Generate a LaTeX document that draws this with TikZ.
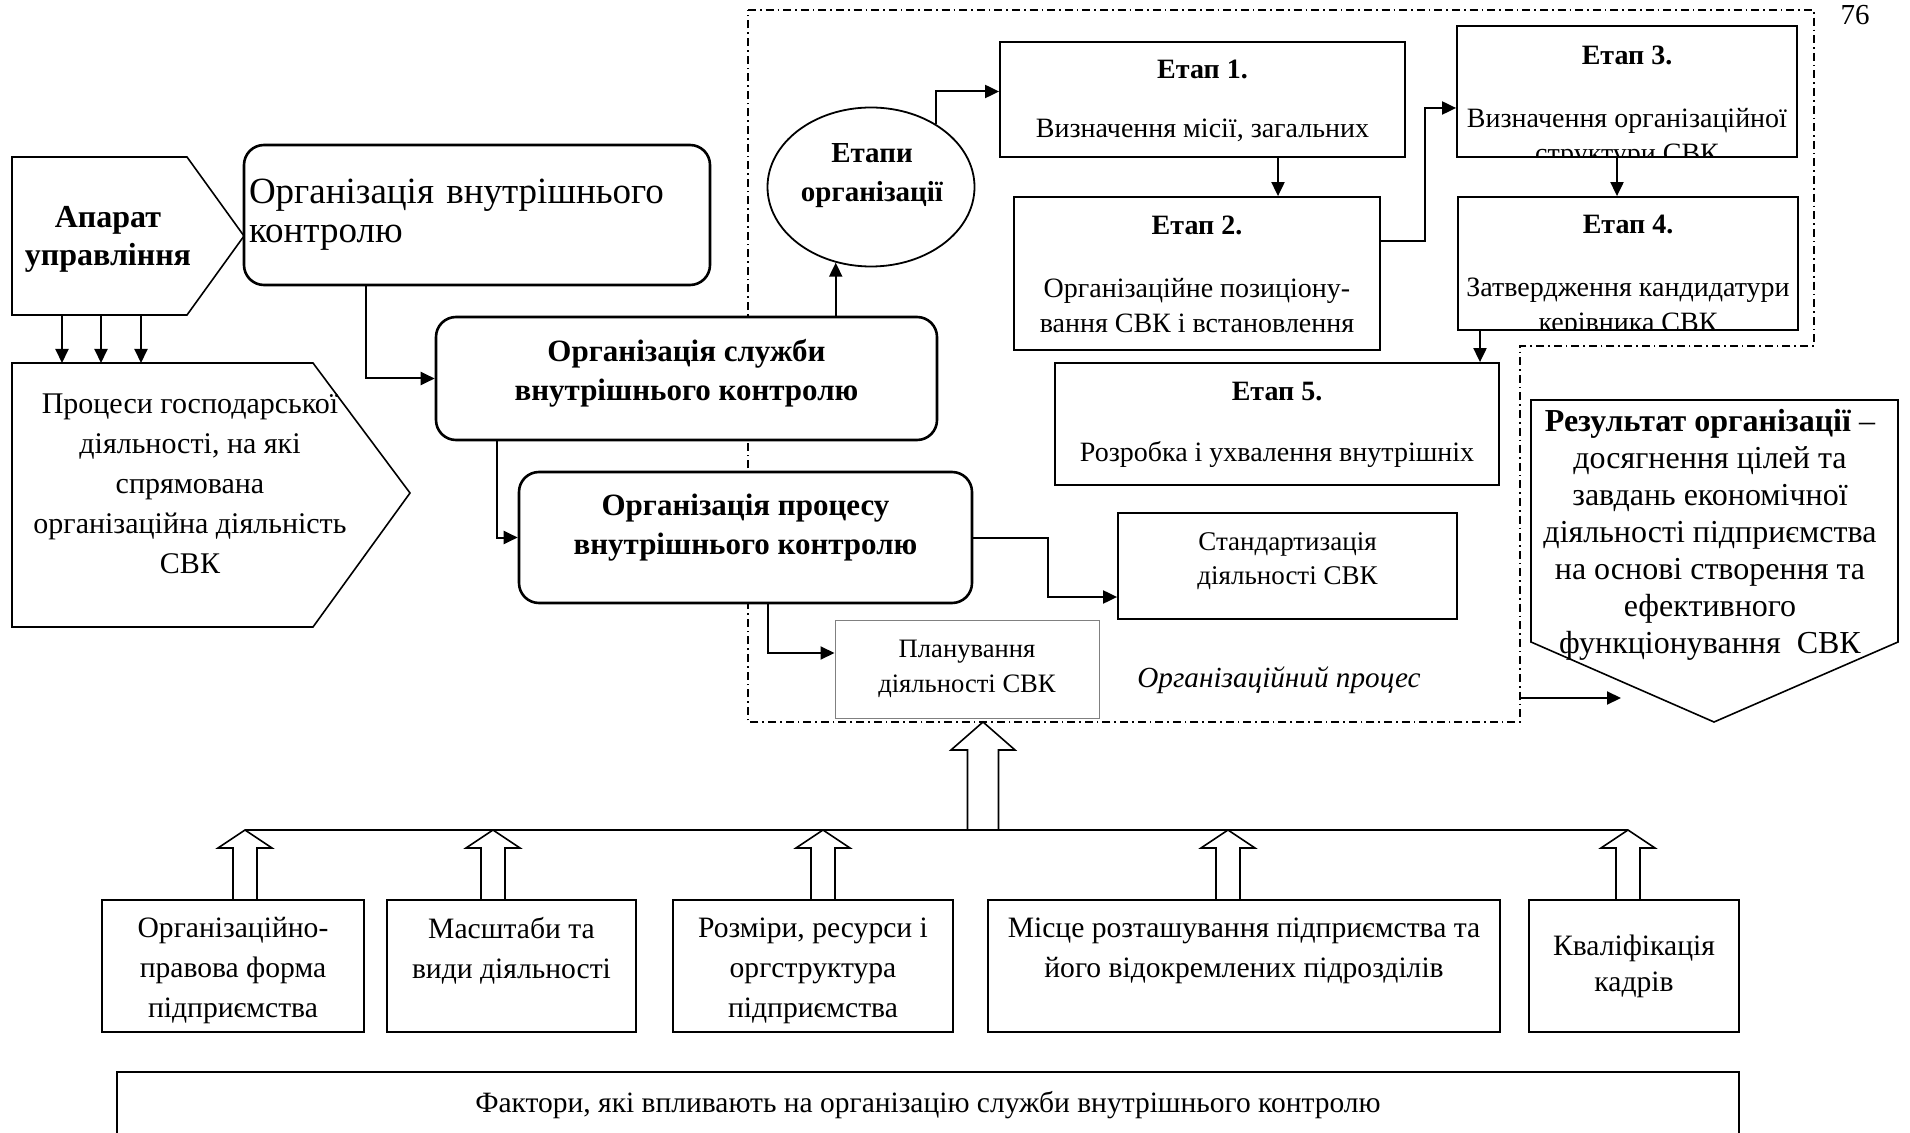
\documentclass[tikz,border=0pt]{standalone}
\usepackage{fontspec}
\setmainfont{Liberation Serif}
\usetikzlibrary{arrows.meta,calc,positioning,shapes.geometric}

\tikzset{
  dims/.style 2 args={minimum width=#1*0.5pt,minimum height=#2*0.5pt},
  box/.style={draw,line width=0.9pt,fill=white,inner sep=0pt},
  rbox/.style={box,line width=1.3pt,rounded corners=10pt},
  txt/.style={align=center,inner sep=0pt},
  boldtxt/.style={txt,font=\bfseries\fontsize{15.5}{19.5}\selectfont},
  stagetxt/.style={txt,font=\fontsize{14}{17.5}\selectfont},
  factortxt/.style={txt,font=\fontsize{14.8}{20}\selectfont},
  arr/.style={line width=1pt,-{Triangle[length=7pt,width=6.5pt]}},
  outline/.style={line width=0.8pt,line join=miter},
  procframe/.style={line width=0.6pt,dash pattern=on 4pt off 2pt on 0.8pt off 2pt},
  pics/fatup/.style n args={4}{code={
    \draw[line width=0.8pt,fill=white] (0,0) -- (#4,#3) -- (#2,#3) -- (#2,#1)
      -- (-#2,#1) -- (-#2,#3) -- (-#4,#3) -- cycle;}}
}

\begin{document}
\begin{tikzpicture}[x=0.5pt,y=-0.5pt]
\useasboundingbox (0,0) rectangle (1910,1133);

% frame of the organisational process
\draw[procframe] (748,10) -- (1814,10) -- (1814,346) -- (1520,346) -- (1520,722) -- (748,722) -- cycle;
\node[font=\fontsize{14.5}{17}\selectfont] (pagenum) at (1855,15) {76};

% left part
\draw[outline] (12,157) -- (187,157) -- (244,236) -- (187,315) -- (12,315) -- cycle;
\node[txt,font=\bfseries\fontsize{16}{19}\selectfont] (apparat) at (108,239) {Апарат\\управління};
\draw[outline] (12,363) -- (313,363) -- (410,493) -- (313,627) -- (12,627) -- cycle;
\node[txt,font=\fontsize{15}{20}\selectfont] (procs) at (190,484)
  {Процеси господарської\\діяльності, на які\\спрямована\\організаційна діяльність\\СВК};
\coordinate (apSW) at (12,315);
\coordinate (prNW) at (12,363);
\foreach \dx in {50,89,129}
  \draw[arr] ($(apSW)+(\dx,0)$) -- ($(prNW)+(\dx,0)$);

\node[rbox,dims={466}{140},text width=228pt,inner xsep=2.5pt,align=left,
  font=\fontsize{18.5}{19.5}\selectfont] (orgvk) at (477,215) {Організація внутрішнього\\контролю};
\node[rbox,dims={501}{123}] (serv) at (686.5,378.5) {};
\node[boldtxt] (servtxt) at (686.5,373) {Організація служби\\внутрішнього контролю};
\node[rbox,dims={453}{131}] (proc) at (745.5,537.5) {};
\node[boldtxt] (proctxt) at (745.5,527.5) {Організація процесу\\внутрішнього контролю};

% stages
\node[box,ellipse,dims={207}{159}] (etapy) at (871,187) {};
\node[txt,font=\bfseries\fontsize{14.5}{19.5}\selectfont] (etapytxt) at (872,176) {Етапи\\організації};
\node[box,dims={405}{115}] (st1) at (1202.5,99.5) {};
\node[stagetxt,below=9.5pt of st1.north] (st1txt) {\textbf{Етап 1.}\\[12pt]Визначення місії, загальних};
\node[box,dims={366}{153}] (st2) at (1197,273.5) {};
\node[stagetxt,below=9.5pt of st2.north] (st2txt) {\textbf{Етап 2.}\\[14pt]Організаційне позиціону-\\вання СВК і встановлення};
\node[box,dims={340}{131}] (st3) at (1627,91.5) {};
\begin{scope}
  \clip (st3.north west) rectangle (st3.south east);
  \node[stagetxt,below=10pt of st3.north] (st3txt) {\textbf{Етап 3.}\\[14pt]Визначення організаційної\\структури СВК};
\end{scope}
\node[box,dims={340}{133}] (st4) at (1628,263.5) {};
\begin{scope}
  \clip (st4.north west) rectangle (st4.south east);
  \node[stagetxt,below=9.5pt of st4.north] (st4txt) {\textbf{Етап 4.}\\[14pt]Затвердження кандидатури\\керівника СВК};
\end{scope}
\node[box,dims={444}{122}] (st5) at (1277,424) {};
\node[stagetxt,below=10pt of st5.north] (st5txt) {\textbf{Етап 5.}\\[13pt]Розробка і ухвалення внутрішніх};

\node[box,dims={339}{106}] (std) at (1287.5,566) {};
\node[txt,font=\fontsize{13.5}{17}\selectfont] (stdtxt) at (1287.5,561) {Стандартизація\\діяльності СВК};
\node[box,draw=gray,line width=0.5pt,dims={264}{98},align=center,font=\fontsize{13.3}{17.5}\selectfont] (plan) at (967,669)
  {Планування\\діяльності СВК};
\node[font=\itshape\fontsize{14.6}{17}\selectfont] (orgproc) at (1279,680) {Організаційний процес};

% result
\draw[outline] (1531,400) -- (1898,400) -- (1898,642) -- (1714,722) -- (1531,642) -- cycle;
\node[txt,font=\fontsize{16}{18.5}\selectfont] (result) at (1710,535)
  {\textbf{Результат організації} –\\досягнення цілей та\\завдань економічної\\діяльності підприємства\\на основі створення та\\ефективного\\функціонування\enspace СВК};
\coordinate (frameE) at (1520,698);
\coordinate (resW) at (1621,698);
\draw[arr] (frameE) -- (resW);

% connectors
\draw[arr] ([xshift=-55.5pt]orgvk.south) |- (serv.west);
\draw[arr] ([xshift=-94.75pt]serv.south) |- (proc.west);
\draw[arr] (etapy.245 |- serv.north) -- (etapy.245);
\draw[arr] (etapy.44) |- ([yshift=4pt]st1.west);
\coordinate (k12) at ($(st1.south)+(75.5,0)$);
\draw[arr] (k12) -- (k12 |- st2.north);
\coordinate (k23) at (1425,108);
\draw[arr] ([yshift=16pt]st2.east) -| (k23) -- (k23 -| st3.west);
\coordinate (k34) at ($(st3.south)+(-10,0)$);
\draw[arr] (k34) -- (k34 |- st4.north);
\coordinate (k45) at ($(st4.south)+(-148,0)$);
\draw[arr] (k45) -- (k45 |- st5.north);
\coordinate (kstd) at (1048,597);
\draw[arr] (proc.east) -| (kstd) -- (kstd -| std.west);
\draw[arr] ([xshift=11.25pt]proc.south) |- ([yshift=8pt]plan.west);

% factors
\node[box,dims={262}{132}] (f1) at (233,966) {};
\node[factortxt,below=9pt of f1.north] (f1txt) {Організаційно-\\правова форма\\підприємства};
\node[box,dims={249}{132}] (f2) at (511.5,966) {};
\node[factortxt,below=9pt of f2.north] (f2txt) {Масштаби та\\види діяльності};
\node[box,dims={280}{132}] (f3) at (813,966) {};
\node[factortxt,below=9pt of f3.north] (f3txt) {Розміри, ресурси і\\оргструктура\\підприємства};
\node[box,dims={512}{132}] (f4) at (1244,966) {};
\node[factortxt,below=9pt of f4.north] (f4txt) {Місце розташування підприємства та\\його відокремлених підрозділів};
\node[box,dims={210}{132},align=center,font=\fontsize{14.8}{18}\selectfont] (f5) at (1634,966) {Кваліфікація\\кадрів};
\node[box,dims={1622}{66},font=\fontsize{14.75}{18}\selectfont] (factors) at (928,1105)
  {Фактори, які впливають на організацію служби внутрішнього контролю};

\coordinate (bus) at (0,830);
\foreach \f/\dx in {f1/12,f2/-18.5,f3/10,f4/-16,f5/-6}
  \coordinate (tip\f) at ($(\f.north |- bus)+(\dx,0)$);
\draw[line width=1pt] (tipf1) -- (tipf5);
\foreach \f in {f1,f2,f3,f4,f5}
  \pic at (tip\f) {fatup={70}{12}{18}{27}};
\coordinate (bigtip) at ($(plan.south |- bus)+(16,-108)$);
\pic at (bigtip) {fatup={108}{15.5}{28}{32}};

\end{tikzpicture}
\end{document}
